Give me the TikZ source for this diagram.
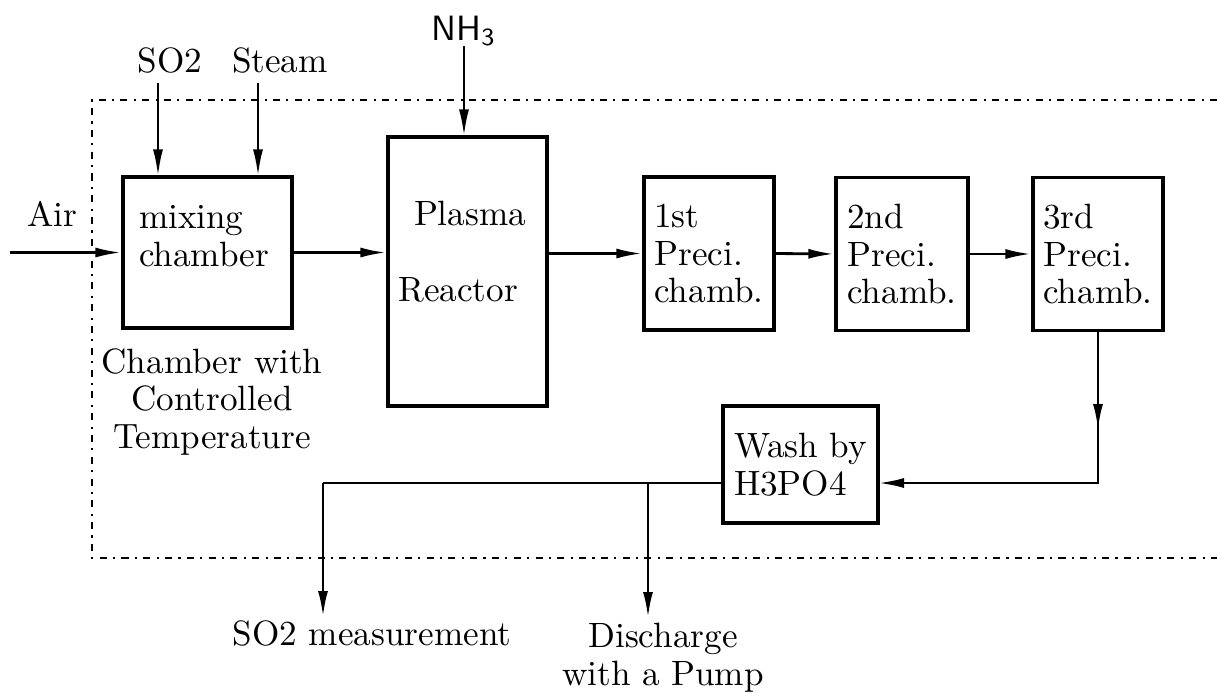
\documentclass[tikz,border=0pt]{standalone}
\usepackage{amsmath}
\usepackage{tikz}
\usetikzlibrary{calc,arrows.meta,positioning}
\tikzset{
  procbox/.style={rectangle, draw=black, line width=0.9pt, inner sep=0pt,
                  align=left, font=\fontsize{10}{10.8}\selectfont},
  flow/.style   ={-{Latex[length=2.6mm, width=1mm]}, line width=0.8pt},
  pipe/.style   ={line width=0.8pt},
  feed/.style   ={-{Latex[length=2.6mm, width=1mm]}, line width=0.6pt},
  bound/.style  ={line width=0.45pt, dash pattern=on 2pt off 1.8pt on 0.6pt off 1.8pt},
  lbl/.style    ={font=\fontsize{10}{10.8}\selectfont, inner sep=0pt},
}
\begin{document}
\begin{tikzpicture}[x=1cm, y=1cm]
  \useasboundingbox (0,0) rectangle (12.17,-6.92);
  % dotted enclosure, open at the right
  \coordinate (fr1) at (12.17,-1.00);
  \coordinate (fr2) at (0.92,-1.00);
  \coordinate (fr3) at (0.92,-5.58);
  \coordinate (fr4) at (12.17,-5.58);
  \draw[bound] (fr1) -- (fr2) -- (fr3) -- (fr4);
  % process boxes
  \node[procbox, minimum width=1.69cm, minimum height=1.51cm] (mix) at (2.075,-2.525) {};
  \node[procbox, minimum width=1.59cm, minimum height=2.69cm] (reac) at (4.675,-2.715) {};
  \node[procbox, minimum width=1.30cm, minimum height=1.53cm] (p1) at (7.09,-2.535) {1st\\Preci.\\chamb.};
  \node[procbox, minimum width=1.32cm, minimum height=1.53cm] (p2) at (9.02,-2.54) {2nd\\Preci.\\chamb.};
  \node[procbox, minimum width=1.30cm, minimum height=1.53cm] (p3) at (10.98,-2.54) {3rd\\Preci.\\chamb.};
  \node[procbox, minimum width=1.55cm, minimum height=1.17cm] (wash) at (8.005,-4.645) {Wash by\\H3PO4};
  \node[lbl, align=left] (mixtxt) at (2.04,-2.36) {mixing\\chamber};
  \node[lbl] (plasma) at (4.70,-2.13) {Plasma};
  \node[lbl] (reactor) at (4.58,-2.90) {Reactor};
  \node[lbl, align=center] (ctrl) at (2.12,-4.02) {Chamber with\\Controlled\\Temperature};
  % feeds
  \node[lbl] (air) at (0.52,-2.14) {Air};
  \node[lbl] (so2) at (1.70,-0.60) {SO2};
  \node[lbl] (steam) at (2.80,-0.60) {Steam};
  \node[lbl] (nh3) at (4.64,-0.31) {\textsf{NH}$_{\mathsf{3}}$};
  \coordinate (airin) at (0.10,-2.525);
  \coordinate (so2in) at (1.58,-0.83);
  \coordinate (stin) at (2.58,-0.83);
  \coordinate (nh3in) at (4.64,-0.46);
  \draw[flow] (airin) -- (mix.west);
  \draw[feed] (so2in) -- (so2in |- mix.north);
  \draw[feed] (stin) -- (stin |- mix.north);
  \draw[feed] (nh3in) -- (nh3in |- reac.north);
  % main line
  \draw[flow] (mix.east) -- (mix.east -| reac.west);
  \draw[flow] (reac.east |- p1.west) -- (p1.west);
  \draw[flow] (p1.east) -- (p2.west);
  \draw[flow] (p2.east) -- (p3.west);
  % back to the wash
  \coordinate (dn) at (10.98,-4.30);
  \coordinate (turn) at (10.98,-4.83);
  \coordinate (win) at (8.78,-4.83);
  \coordinate (wout) at (7.23,-4.83);
  \coordinate (tee) at (6.48,-4.83);
  \coordinate (lcorner) at (3.23,-4.83);
  \draw[flow] (p3.south) -- (turn) -- (win);
  \draw[flow] (p3.south) -- (dn);
  \draw[pipe] (wout) -- (lcorner);
  % outlets
  \node[lbl] (meas) at (3.72,-6.33) {SO2 measurement};
  \node[lbl, align=center] (disch) at (6.63,-6.58) {Discharge\\with a Pump};
  \draw[flow] (lcorner) -- (3.23,-6.17);
  \draw[flow] (tee) -- (6.48,-6.18);
\end{tikzpicture}
\end{document}
